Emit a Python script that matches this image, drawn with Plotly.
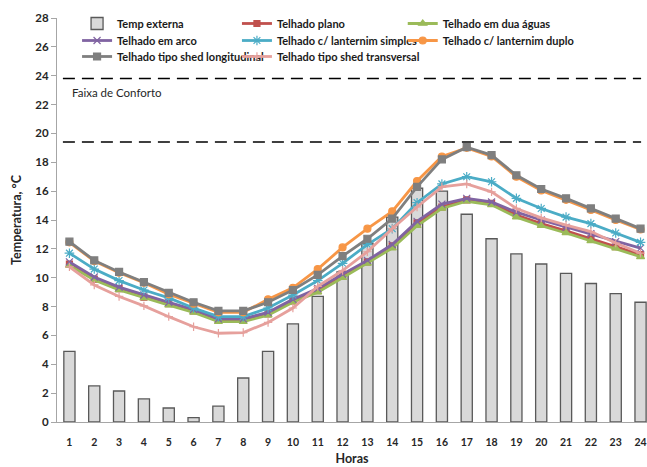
import plotly.graph_objects as go

horas = list(range(1, 25))
hora_labels = [str(h) for h in horas]

temp_externa = [4.9, 2.5, 2.15, 1.6, 0.97, 0.3, 1.1, 3.05, 4.9, 6.8, 8.7, 10.4,
                12.4, 14.2, 16.2, 16.0, 14.4, 12.7, 11.65, 10.95, 10.3, 9.6, 8.9, 8.3]

telhado_plano = [10.95, 9.9, 9.25, 8.65, 8.2, 7.7, 7.05, 7.05, 7.5, 8.4, 9.1, 10.2,
                 11.1, 12.2, 13.8, 14.9, 15.4, 15.15, 14.35, 13.75, 13.25, 12.7, 12.15, 11.6]
telhado_duas_aguas = [10.85, 9.85, 9.15, 8.6, 8.1, 7.6, 6.95, 6.95, 7.4, 8.3, 9.0, 10.0,
                      11.0, 12.05, 13.6, 14.8, 15.3, 15.05, 14.2, 13.6, 13.1, 12.55, 12.05, 11.45]
telhado_arco = [11.1, 10.05, 9.35, 8.8, 8.3, 7.8, 7.15, 7.15, 7.6, 8.5, 9.25, 10.25,
                11.2, 12.3, 13.9, 15.1, 15.5, 15.25, 14.55, 14.0, 13.5, 13.05, 12.5, 12.05]
lanternim_simples = [11.7, 10.6, 9.8, 9.15, 8.6, 7.9, 7.3, 7.3, 7.9, 8.8, 9.8, 11.0,
                     12.3, 13.4, 15.2, 16.5, 17.0, 16.65, 15.5, 14.8, 14.2, 13.75, 13.1, 12.45]
lanternim_duplo = [12.45, 11.15, 10.35, 9.65, 8.85, 8.2, 7.6, 7.6, 8.5, 9.3, 10.6, 12.1,
                   13.4, 14.6, 16.7, 18.4, 19.0, 18.4, 17.0, 16.05, 15.4, 14.7, 14.0, 13.35]
shed_longitudinal = [12.5, 11.2, 10.4, 9.7, 8.95, 8.3, 7.7, 7.7, 8.3, 9.15, 10.2, 11.5,
                     12.7, 14.1, 16.3, 18.2, 19.05, 18.5, 17.1, 16.15, 15.5, 14.8, 14.1, 13.4]
shed_transversal = [10.75, 9.5, 8.7, 8.05, 7.3, 6.6, 6.15, 6.2, 6.9, 7.9, 9.4, 10.5,
                    11.8, 13.4, 14.9, 16.3, 16.5, 15.95, 14.8, 14.15, 13.65, 13.2, 12.4, 11.7]

conforto_sup = 23.8
conforto_inf = 19.4

font_family = "Lato, Roboto, Arial, sans-serif"

# legend grid: column x (paper) and row y (paper)
leg_cols = [0.034, 0.305, 0.586]
leg_rows = [1.0223, 0.9802, 0.9406]

fig = go.Figure()

fig.add_trace(go.Bar(
    x=horas, y=temp_externa, name="<b>Temp externa</b>", legend="legend",
    width=0.45, marker=dict(color="#D9D9D9", line=dict(color="#595959", width=1.3)),
))

# (name, values, color, symbol, size, legend row, legend column)
series = [
    ("Telhado plano", telhado_plano, "#C0504D", "square", 6, 0, 1),
    ("Telhado em dua águas", telhado_duas_aguas, "#9BBB59", "triangle-up", 7, 0, 2),
    ("Telhado em arco", telhado_arco, "#8064A2", "x-thin", 7, 1, 0),
    ("Telhado c/ lanternim simples", lanternim_simples, "#4BACC6", "asterisk", 8, 1, 1),
    ("Telhado c/ lanternim duplo", lanternim_duplo, "#F79646", "circle", 7, 1, 2),
    ("Telhado tipo shed longitudinal", shed_longitudinal, "#7F7F7F", "square", 7, 2, 0),
    ("Telhado tipo shed transversal", shed_transversal, "#E6A09C", "cross-thin", 6, 2, 1),
]

legend_common = dict(yanchor="top", xanchor="left", orientation="v",
                     bgcolor="rgba(0,0,0,0)",
                     font=dict(size=11, family=font_family, color="#1a1a1a"), itemwidth=30)
legends = {"legend": dict(x=leg_cols[0], y=leg_rows[0], **legend_common)}

for i, (name, vals, color, sym, size, r, c) in enumerate(series):
    lg = "legend%d" % (i + 2)
    legends[lg] = dict(x=leg_cols[c], y=leg_rows[r], **legend_common)
    fig.add_trace(go.Scatter(
        x=horas, y=vals, name="<b>" + name + "</b>", mode="lines+markers", legend=lg,
        line=dict(color=color, width=2.8),
        marker=dict(symbol=sym, size=size, color=color,
                    line=dict(color=color, width=1.2)),
    ))

for yv in (conforto_sup, conforto_inf):
    fig.add_shape(type="line", xref="paper", yref="y", x0=0.01, x1=0.99,
                  y0=yv, y1=yv, line=dict(color="black", width=1.5, dash="12px,7px"))

fig.add_annotation(x=0.022, xref="paper", y=22.85, yref="y", text="Faixa de Conforto",
                   showarrow=False, xanchor="left", yanchor="middle",
                   font=dict(size=11.5, color="#262626", family=font_family))

fig.update_layout(
    width=647, height=467,
    margin=dict(l=57, r=0, t=18, b=45, autoexpand=False),
    paper_bgcolor="white", plot_bgcolor="white",
    font=dict(family=font_family, color="#262626", size=11),
    showlegend=True,
    bargap=0.5,
    **legends,
)

fig.update_xaxes(
    range=[0.5, 24.26], tickmode="array", tickvals=horas, ticktext=["<b>%s</b>" % t for t in hora_labels],
    showline=True, linecolor="#A6A6A6", linewidth=1, showgrid=False, zeroline=False,
    ticks="outside", ticklen=10, tickcolor="rgba(0,0,0,0)", automargin=False,
    tickfont=dict(size=10.5, family=font_family),
    title=dict(text="<b>Horas</b>", font=dict(size=12.5, family=font_family), standoff=7),
)
fig.update_yaxes(
    range=[0, 28], dtick=2, tickformat="d",
    showline=True, linecolor="#A6A6A6", linewidth=1, showgrid=False, zeroline=False,
    ticks="outside", ticklen=5, tickcolor="#A6A6A6", automargin=False,
    tickprefix="<b>", ticksuffix="</b>",
    tickfont=dict(size=11.5, family=font_family),
    title=dict(text="<b>Temperatura, °C</b>", font=dict(size=12.5, family=font_family), standoff=10),
)

fig.write_html("out.html", config={"displayModeBar": False},
               post_script="document.body.style.margin='0';document.body.style.overflow='hidden';")
